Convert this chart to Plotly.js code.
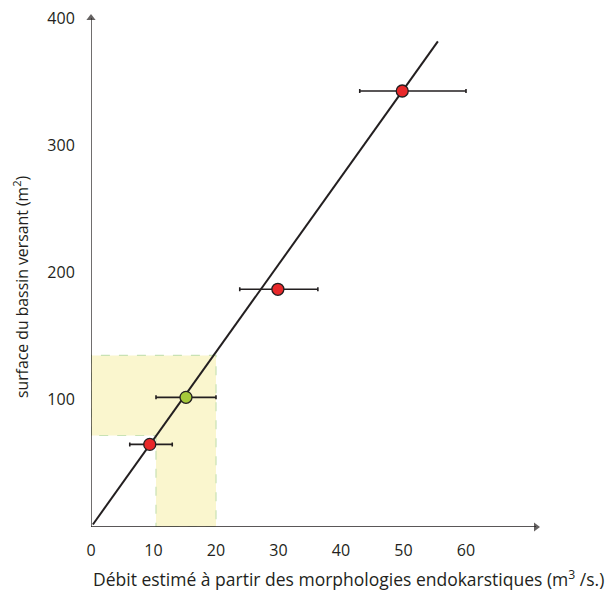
<!DOCTYPE html>
<html>
<head>
<meta charset="utf-8">
<script src="https://cdn.plot.ly/plotly-3.0.1.min.js"></script>
<style>html,body{margin:0;padding:0;background:#fff}#chart{width:605px;height:591px}</style>
</head>
<body>
<div id="chart"></div>
<script>
// Data
const redX = [9.4, 29.9, 49.8];
const redY = [65, 187, 343];
const redErrPlus = [3.6, 6.4, 10.2];
const redErrMinus = [3.2, 6.1, 6.8];

const greenX = [15.2];
const greenY = [102];
const greenErrPlus = [4.8];
const greenErrMinus = [4.8];

const fitX = [0.3, 55.5];
const fitY = [2, 382];

// L-shaped highlighted zone (polygon)
const zoneX = [0, 0, 20, 20, 10.4, 10.4, 0];
const zoneY = [72, 135, 135, 0, 0, 72, 72];

const xTicks = [0, 10, 20, 30, 40, 50, 60];
const yTicks = [100, 200, 300, 400];

// axis extents (arrow tips)
const xAxisEnd = 71.2;
const yAxisEnd = 400.5;

const ink = '#231f20';
const font = 'Open Sans, Noto Sans, sans-serif';

const traces = [
  {x: zoneX, y: zoneY, type: 'scatter', mode: 'lines', fill: 'toself',
   fillcolor: 'rgb(250,246,206)', line: {color: 'rgb(200,226,180)', width: 1.2, dash: 'dash'},
   hoverinfo: 'skip', showlegend: false},
  // x axis line + arrowhead
  {x: [0, xAxisEnd], y: [0, 0], type: 'scatter', mode: 'lines+markers', cliponaxis: false,
   line: {color: ink, width: 1.3},
   marker: {symbol: ['circle', 'triangle-right'], size: [0, 8], color: ink, line: {width: 0}},
   showlegend: false},
  // y axis line + arrowhead
  {x: [0, 0], y: [0, yAxisEnd], type: 'scatter', mode: 'lines+markers', cliponaxis: false,
   line: {color: ink, width: 1.3},
   marker: {symbol: ['circle', 'triangle-up'], size: [0, 8], color: ink, line: {width: 0}},
   showlegend: false},
  {x: fitX, y: fitY, type: 'scatter', mode: 'lines',
   line: {color: ink, width: 2}, showlegend: false},
  {x: redX, y: redY, type: 'scatter', mode: 'markers',
   marker: {color: '#e8282a', size: 12, line: {color: ink, width: 1.3}},
   error_x: {type: 'data', symmetric: false, array: redErrPlus, arrayminus: redErrMinus,
             color: ink, thickness: 1.6, width: 2},
   showlegend: false},
  {x: greenX, y: greenY, type: 'scatter', mode: 'markers',
   marker: {color: '#a6c93a', size: 12, line: {color: ink, width: 1.3}},
   error_x: {type: 'data', symmetric: false, array: greenErrPlus, arrayminus: greenErrMinus,
             color: ink, thickness: 1.6, width: 2},
   showlegend: false}
];

const layout = {
  width: 605, height: 591,
  margin: {l: 91, r: 64, t: 16, b: 64},
  paper_bgcolor: '#fff', plot_bgcolor: '#fff',
  showlegend: false,
  font: {family: font, color: ink, size: 16},
  xaxis: {
    range: [0, 72], showgrid: false, zeroline: false, showline: false,
    tickvals: xTicks, ticktext: xTicks.map(String),
    ticks: 'outside', ticklen: 9, tickcolor: 'rgba(0,0,0,0)',
    tickfont: {size: 16, color: ink, family: font}, fixedrange: true
  },
  yaxis: {
    range: [0, 402], showgrid: false, zeroline: false, showline: false,
    tickvals: yTicks, ticktext: yTicks.map(String),
    ticks: 'outside', ticklen: 12, tickcolor: 'rgba(0,0,0,0)',
    tickfont: {size: 16, color: ink, family: font}, fixedrange: true
  },
  annotations: [
    {x: 41.2, y: -0.1, xref: 'x', yref: 'paper', xanchor: 'center', yanchor: 'middle',
     text: 'Débit estimé à partir des morphologies endokarstiques (m<sup>3</sup> /s.)',
     showarrow: false, font: {size: 17.5, color: ink, family: font}},
    {x: -0.155, y: 0.47, xref: 'paper', yref: 'paper', xanchor: 'center', yanchor: 'middle',
     textangle: -90, text: 'surface du bassin versant (m<sup>2</sup>)',
     showarrow: false, font: {size: 15.8, color: ink, family: font}}
  ]
};

Plotly.newPlot('chart', traces, layout, {displayModeBar: false, staticPlot: true});
</script>
</body>
</html>
